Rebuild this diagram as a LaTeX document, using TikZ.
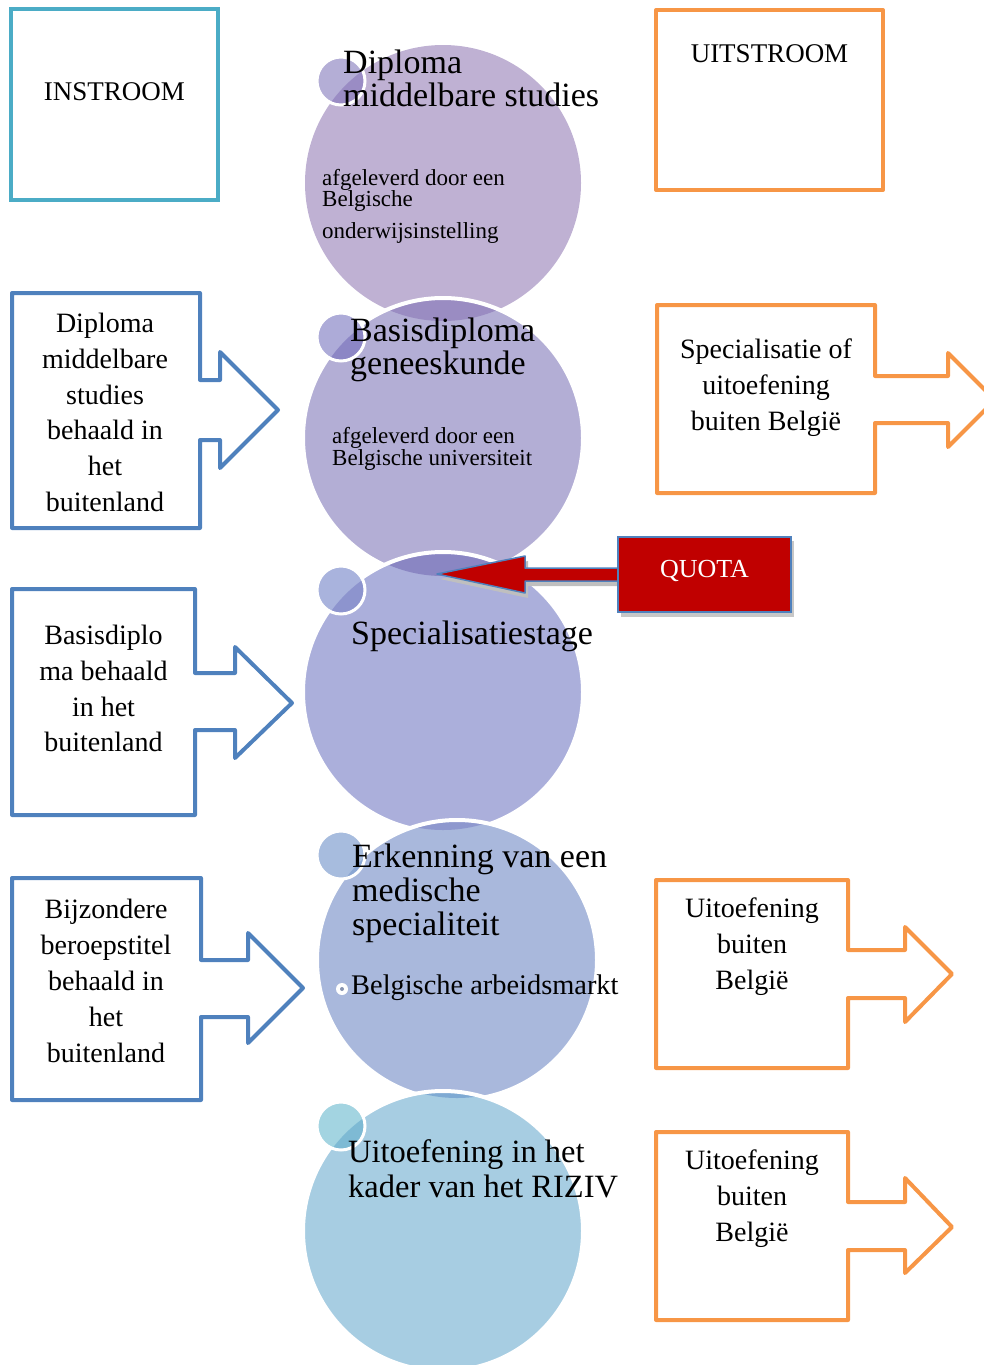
\documentclass[tikz,border=0pt]{standalone}
\usepackage{fontspec}
\setmainfont{Liberation Serif}
\definecolor{inteal}{HTML}{4BACC6}
\definecolor{inblue}{HTML}{4F81BD}
\definecolor{outorange}{HTML}{F79646}
\definecolor{quotared}{HTML}{C00000}
\definecolor{cA}{HTML}{BFB1D3}
\definecolor{cB}{HTML}{B3AED5}
\definecolor{cC}{HTML}{ABAFDB}
\definecolor{cD}{HTML}{A9B8DC}
\definecolor{cE}{HTML}{A7CDE2}
\definecolor{lAB}{HTML}{9A8CC2}
\definecolor{lBC}{HTML}{8A86C3}
\definecolor{lCD}{HTML}{8E98CE}
\definecolor{lDE}{HTML}{7FAAD3}
\definecolor{sA}{HTML}{B4AED6}
\definecolor{sB}{HTML}{ADABD8}
\definecolor{sC}{HTML}{A9B3DD}
\definecolor{sD}{HTML}{A7BCDE}
\definecolor{sE}{HTML}{A3D4E1}
\definecolor{slA}{HTML}{9A8CC4}
\definecolor{slB}{HTML}{8C86C5}
\definecolor{slC}{HTML}{8D94CE}
\definecolor{slD}{HTML}{8AA6D3}
\definecolor{slE}{HTML}{7EBAD4}
\tikzset{
  inshape/.style={draw=inblue, line width=4pt, line join=round},
  outshape/.style={draw=outorange, line width=4pt, line join=round},
  sidetxt/.style={font=\fontsize{28}{36}\selectfont, anchor=base, inner sep=0pt},
  headtxt/.style={font=\fontsize{34}{34}\selectfont, anchor=base west, inner sep=0pt},
  subtxt/.style={font=\fontsize{23}{23}\selectfont, anchor=base west, inner sep=0pt},
  ringline/.style={draw=white, line width=4pt},
  smallring/.style={draw=white, line width=3pt},
}
\newcommand{\bigdisc}[4]{% prev centre, this centre, fill, lens
  \fill[#3] #2 circle[radius=140pt];
  \begin{scope}\clip #2 circle[radius=140pt];
    \fill[#4] #1 circle[radius=138pt];
  \end{scope}
  \draw[ringline] #2 circle[radius=140pt];
}
\newcommand{\smalldisc}[4]{% small centre, big centre, fill, lens
  \fill[#3] #1 circle[radius=24pt];
  \begin{scope}\clip #1 circle[radius=24pt];
    \fill[#4] #2 circle[radius=138pt];
  \end{scope}
  \draw[smallring] #1 circle[radius=24pt];
}
\begin{document}
\begin{tikzpicture}[x=1pt,y=-1pt]
\useasboundingbox (0,0) rectangle (984,1365);
\clip (0,0) rectangle (984,1365);

% ---- big circles ----
\fill[cA] (443,183) circle[radius=138pt];
\bigdisc{(443,183)}{(443,438)}{cB}{lAB}
\bigdisc{(443,438)}{(443,692)}{cC}{lBC}
\bigdisc{(443,692)}{(457,960)}{cD}{lCD}
\bigdisc{(457,960)}{(443,1231)}{cE}{lDE}

% ---- small circles ----
\smalldisc{(341,81)}{(443,183)}{sA}{slA}
\smalldisc{(341,337)}{(443,438)}{sB}{slB}
\smalldisc{(341,590)}{(443,692)}{sC}{slC}
\smalldisc{(341,855)}{(457,960)}{sD}{slD}
\smalldisc{(341,1126)}{(443,1231)}{sE}{slE}

% ---- circle texts ----
\node[headtxt] (t1a) at (343,73) {Diploma};
\node[headtxt] (t1b) at (343,106) {middelbare studies};
\node[subtxt] (t1c) at (322,185) {afgeleverd door een};
\node[subtxt] (t1d) at (322,206) {Belgische};
\node[subtxt] (t1e) at (322,238) {onderwijsinstelling};

\node[headtxt] (t2a) at (350,341) {Basisdiploma};
\node[headtxt] (t2b) at (350,374) {geneeskunde};
\node[subtxt] (t2c) at (332,443) {afgeleverd door een};
\node[subtxt] (t2d) at (332,465) {Belgische universiteit};

\node[headtxt] (t3a) at (351,644) {Specialisatiestage};

\node[headtxt] (t4a) at (352,867) {Erkenning van een};
\node[headtxt] (t4b) at (352,901) {medische};
\node[headtxt] (t4c) at (352,935) {specialiteit};
\fill[white] (342,989) circle[radius=6pt];
\fill[cD!80!black] (342,989) circle[radius=2pt];
\node[headtxt, font=\fontsize{28.4}{30}\selectfont] (t4d) at (351,994) {Belgische arbeidsmarkt};

\node[headtxt, font=\fontsize{32.5}{34}\selectfont] (t5a) at (348,1162) {Uitoefening in het};
\node[headtxt, font=\fontsize{32.5}{34}\selectfont] (t5b) at (348,1197) {kader van het RIZIV};

% ---- header boxes ----
\draw[draw=inteal, line width=4pt] (11,9) rectangle (218,200);
\node[sidetxt, font=\fontsize{27}{30}\selectfont] (instroom) at (114.5,100) {INSTROOM};
\draw[outshape] (656,10) rectangle (883,190);
\node[sidetxt, font=\fontsize{27}{30}\selectfont] (uitstroom) at (769.5,62) {UITSTROOM};

% ---- instroom callouts ----
\draw[inshape] (12,293) -- (200,293) -- (200,380) -- (220,380) -- (220,352) -- (278,410)
  -- (220,468) -- (220,440) -- (200,440) -- (200,528) -- (12,528) -- cycle;
\node[sidetxt] (a1) at (105,332) {Diploma};
\node[sidetxt] (a2) at (105,368) {middelbare};
\node[sidetxt] (a3) at (105,404) {studies};
\node[sidetxt] (a4) at (105,439) {behaald in};
\node[sidetxt] (a5) at (105,475) {het};
\node[sidetxt] (a6) at (105,511) {buitenland};

\draw[inshape] (12,589) -- (195,589) -- (195,673) -- (235,673) -- (235,647) -- (292,703)
  -- (235,758) -- (235,730) -- (195,730) -- (195,815) -- (12,815) -- cycle;
\node[sidetxt] (b1) at (103.5,644) {Basisdiplo};
\node[sidetxt] (b2) at (103.5,680) {ma behaald};
\node[sidetxt] (b3) at (103.5,716) {in het};
\node[sidetxt] (b4) at (103.5,751) {buitenland};

\draw[inshape] (12,878) -- (201,878) -- (201,960) -- (248,960) -- (248,933) -- (303,988)
  -- (248,1043) -- (248,1017) -- (201,1017) -- (201,1100) -- (12,1100) -- cycle;
\node[sidetxt] (c1) at (106,918) {Bijzondere};
\node[sidetxt] (c2) at (106,954) {beroepstitel};
\node[sidetxt] (c3) at (106,990) {behaald in};
\node[sidetxt] (c4) at (106,1026) {het};
\node[sidetxt] (c5) at (106,1062) {buitenland};

% ---- uitstroom callouts ----
\draw[outshape] (657,305) -- (875,305) -- (875,376) -- (948,376) -- (948,353) -- (995,400)
  -- (948,447) -- (948,423) -- (875,423) -- (875,493) -- (657,493) -- cycle;
\node[sidetxt] (d1) at (766,358) {Specialisatie of};
\node[sidetxt] (d2) at (766,394) {uitoefening};
\node[sidetxt] (d3) at (766,430) {buiten België};

\draw[outshape] (656,880) -- (848,880) -- (848,950) -- (905,950) -- (905,927) -- (952,974)
  -- (905,1022) -- (905,998) -- (848,998) -- (848,1068) -- (656,1068) -- cycle;
\node[sidetxt] (e1) at (752,917) {Uitoefening};
\node[sidetxt] (e2) at (752,953) {buiten};
\node[sidetxt] (e3) at (752,989) {België};

\draw[outshape] (656,1132) -- (848,1132) -- (848,1202) -- (905,1202) -- (905,1178) -- (952,1227)
  -- (905,1273) -- (905,1250) -- (848,1250) -- (848,1320) -- (656,1320) -- cycle;
\node[sidetxt] (f1) at (752,1169) {Uitoefening};
\node[sidetxt] (f2) at (752,1205) {buiten};
\node[sidetxt] (f3) at (752,1241) {België};

% ---- QUOTA ----
\coordinate (qtip) at (437,574);
\fill[black!25] (440,579) -- (528,561) -- (528,573) -- (621,573) -- (621,586) -- (528,586) -- (528,598) -- cycle;
\draw[fill=quotared, draw=inblue, line width=1.5pt, line join=round]
  (qtip) -- (525,556) -- (525,568) -- (620,568) -- (620,581) -- (525,581) -- (525,593) -- cycle;
\fill[black!22] (621,541) rectangle (794,617);
\node[draw=inblue, fill=quotared, line width=1.5pt, minimum width=173pt, minimum height=75pt,
  inner sep=0pt] (quota) at (704.5,574.5) {};
\node[sidetxt, font=\fontsize{26}{30}\selectfont, text=white] (quotatxt) at (704.5,577) {QUOTA};
\end{tikzpicture}
\end{document}
